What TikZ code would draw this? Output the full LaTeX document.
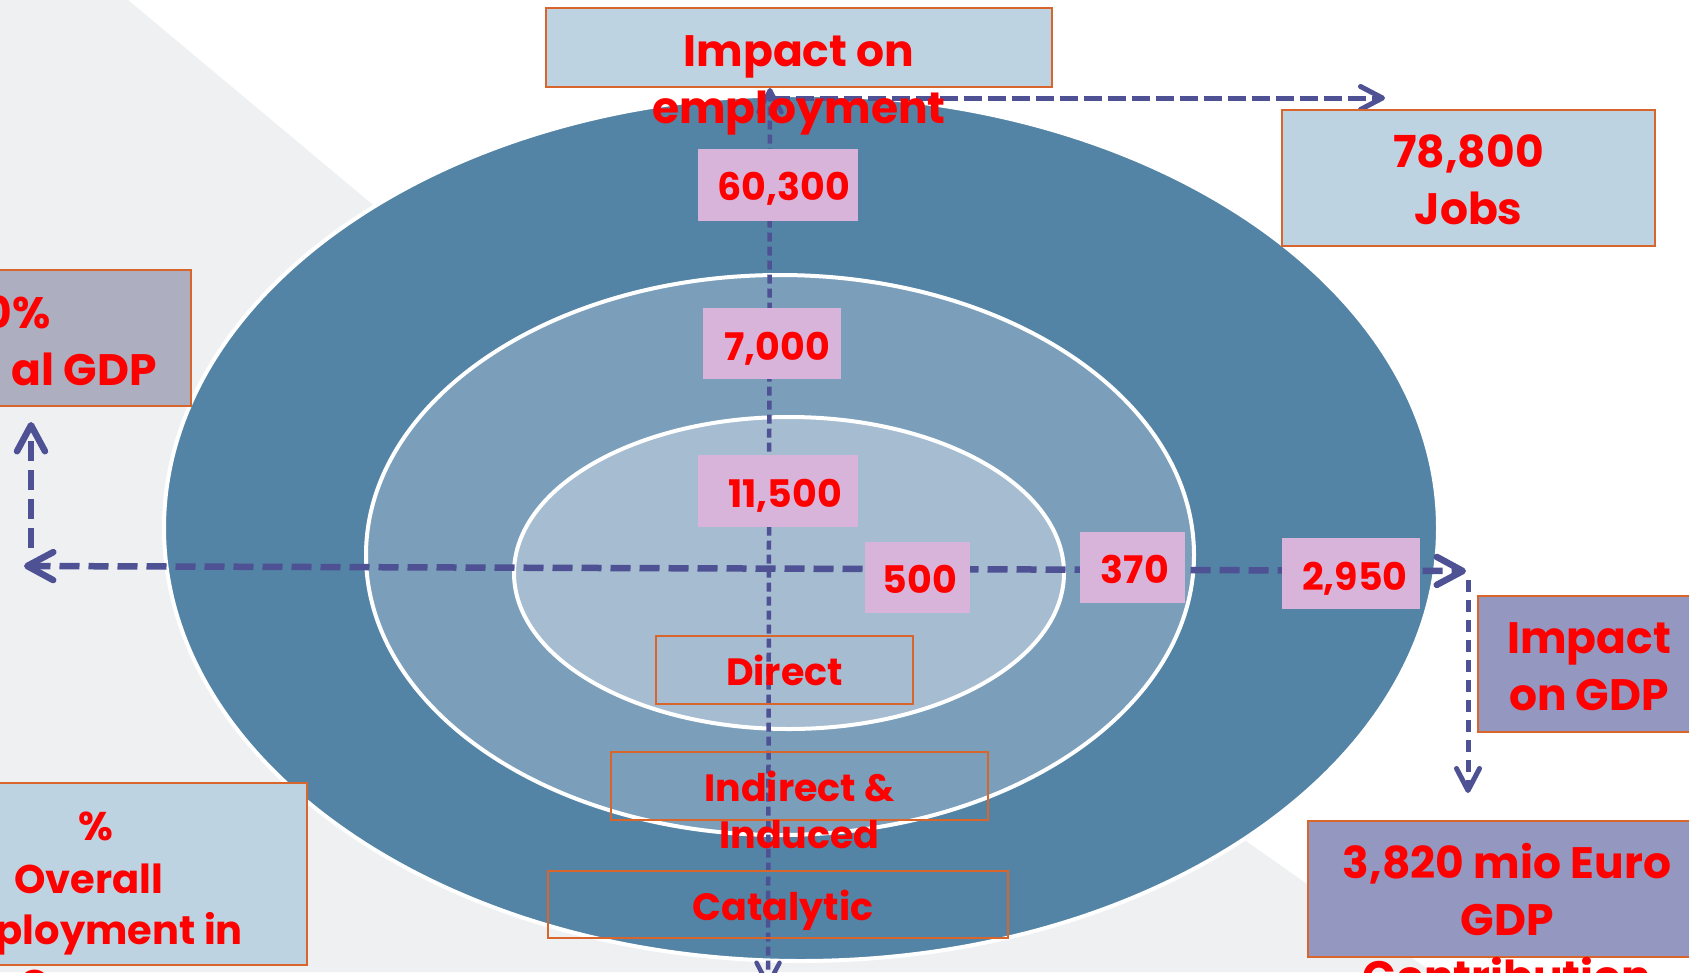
\documentclass[tikz,border=0pt]{standalone}
\usepackage{fontspec}
\setmainfont{Poppins}
\usetikzlibrary{arrows.meta}
\definecolor{bggray}{HTML}{EFF0F2}
\definecolor{outerc}{HTML}{5384A5}
\definecolor{midc}{HTML}{7B9FBA}
\definecolor{innerc}{HTML}{A6BCD0}
\definecolor{arrowc}{HTML}{4E5193}
\definecolor{txtred}{HTML}{FF0000}
\definecolor{edgeor}{HTML}{D8662C}
\definecolor{lightblue}{HTML}{BDD3E1}
\definecolor{lavender}{HTML}{9497BF}
\definecolor{graylav}{HTML}{ADAFC0}
\definecolor{pinkbox}{HTML}{D9B4DA}
\newcommand\bigfnt{\fontsize{44}{57}\selectfont\bfseries}
\newcommand\medfnt{\fontsize{40}{52}\selectfont\bfseries}
\newcommand\smallfnt{\fontsize{38}{47}\selectfont\bfseries}
\newcommand\rows[1]{\begin{tabular}[t]{@{}c@{}}#1\end{tabular}}
\tikzset{
  ring/.style={draw=white, line width=4pt},
  obox/.style={draw=edgeor, line width=2pt, inner sep=0pt, text=txtred},
  nbox/.style={fill=pinkbox, inner sep=0pt, text=txtred, font=\smallfnt},
  lbl/.style={text=txtred, inner sep=0pt},
  bigbarb/.tip={Straight Barb[length=26pt, width=28pt, round]},
  smallbarb/.tip={Straight Barb[length=22pt, width=23pt, round]},
  hdash/.style={draw=arrowc, line width=6.5pt, dash pattern=on 20pt off 9pt},
  vdash/.style={draw=arrowc, line width=4.5pt, dash pattern=on 9pt off 5pt},
  tdash/.style={draw=arrowc, line width=5pt, dash pattern=on 18pt off 6pt},
  rdash/.style={draw=arrowc, line width=5pt, dash pattern=on 12pt off 8pt}
}
\begin{document}
\begin{tikzpicture}[x=1pt,y=-1pt]
\useasboundingbox (0,0) rectangle (1689,972);
\fill[white] (0,0) rectangle (1689,972);
\fill[bggray] (0,0) -- (128,0) -- (385,215) -- (1253,846) -- (1432,972) -- (0,972) -- cycle;
% rings
\filldraw[fill=outerc, ring] (801,528) ellipse [x radius=637, y radius=433];
\filldraw[fill=midc, ring] (780,555) ellipse [x radius=414, y radius=280];
\filldraw[fill=innerc, ring] (789,573) ellipse [x radius=275, y radius=156];
% connector ends
\coordinate (hl) at (24,566);
\coordinate (hr) at (1466,571);
\coordinate (vt) at (770,88);
\coordinate (vb) at (768,987);
\coordinate (ts) at (772,98);
\coordinate (tj) at (1385,98);
\coordinate (ls) at (31,548);
\coordinate (lg) at (31,422);
\coordinate (rs) at (1468,580);
\coordinate (rg) at (1468,793);
% dashed connectors
\draw[hdash, bigbarb-bigbarb] (hl) -- (hr);
\draw[vdash, smallbarb-smallbarb] (vt) -- (vb);
\draw[tdash, -smallbarb] (ts) -- (tj);
\draw[hdash, -bigbarb] (ls) -- (lg);
\draw[rdash, -smallbarb] (rs) -- (rg);
% side boxes
\node[obox, fill=lightblue, font=\bigfnt, minimum width=506pt, minimum height=79pt, text height=48.5pt, text depth=11.5pt] (emp) at (799,47.5) {\rows{Impact on\\employment}};
\node[obox, fill=lightblue, font=\bigfnt, minimum width=373pt, minimum height=136pt, text height=19pt, text depth=41pt] (jobs) at (1468.5,178) {\rows{78,800\\Jobs}};
\node[obox, fill=graylav, minimum width=251pt, minimum height=136pt] (gdpL) at (65.5,338) {};
\node[lbl, font=\bigfnt, anchor=base east] (gdpLa) at (51,328) {0\%};
\node[lbl, font=\bigfnt, anchor=base east] (gdpLb) at (157,385) {al GDP};
\node[obox, fill=lightblue, minimum width=367pt, minimum height=182pt] (empL) at (123.5,874) {};
\node[lbl, font=\medfnt, anchor=base] (empLa) at (96,840) {\%};
\node[lbl, font=\medfnt, anchor=base] (empLb) at (89,893) {Overall};
\node[lbl, font=\medfnt, anchor=base east] (empLc) at (243,944) {ployment in};
\node[lbl, font=\medfnt, anchor=base west] (empLd) at (19,998) {C};
\node[obox, fill=lavender, font=\bigfnt, minimum width=222pt, minimum height=136pt, text height=19pt, text depth=41pt] (gdpR) at (1589,664) {\rows{Impact\\on GDP}};
\node[obox, fill=lavender, font=\bigfnt, minimum width=398pt, minimum height=136pt, text height=19pt, text depth=41pt] (g3820) at (1507,889) {\rows{3,820 mio Euro\\GDP\\Contribution}};
% number boxes
\node[nbox, minimum width=160pt, minimum height=72pt, text height=45pt, text depth=15pt] (n60300) at (778,185) {\hspace*{12pt}60,300};
\node[nbox, minimum width=138pt, minimum height=71pt, text height=46.5pt, text depth=13.5pt] (n7000) at (772,343.5) {\hspace*{10pt}7,000};
\node[nbox, minimum width=160pt, minimum height=72pt, text height=46pt, text depth=14pt] (n11500) at (778,491) {\hspace*{14pt}11,500};
\node[nbox, minimum width=105pt, minimum height=71pt, text height=45.5pt, text depth=14.5pt] (n500) at (917.5,577.5) {\hspace*{5pt}500};
\node[nbox, minimum width=105pt, minimum height=71pt, text height=45.5pt, text depth=14.5pt] (n370) at (1132.5,567.5) {\hspace*{5pt}370};
\node[nbox, minimum width=138pt, minimum height=71pt, text height=46.5pt, text depth=13.5pt] (n2950) at (1351,573.5) {\hspace*{8pt}2,950};
% ring labels
\node[obox, font=\smallfnt, minimum width=257pt, minimum height=68pt, text height=45pt, text depth=15pt] (direct) at (784.5,670) {Direct};
\node[obox, font=\smallfnt, minimum width=377pt, minimum height=68pt, text height=45pt, text depth=15pt] (indirect) at (799.5,786) {\rows{Indirect \&\\Induced}};
\node[obox, font=\smallfnt, minimum width=460pt, minimum height=67pt, text height=45.5pt, text depth=14.5pt] (catalytic) at (778,904.5) {\hspace*{10pt}Catalytic};
\end{tikzpicture}
\end{document}
